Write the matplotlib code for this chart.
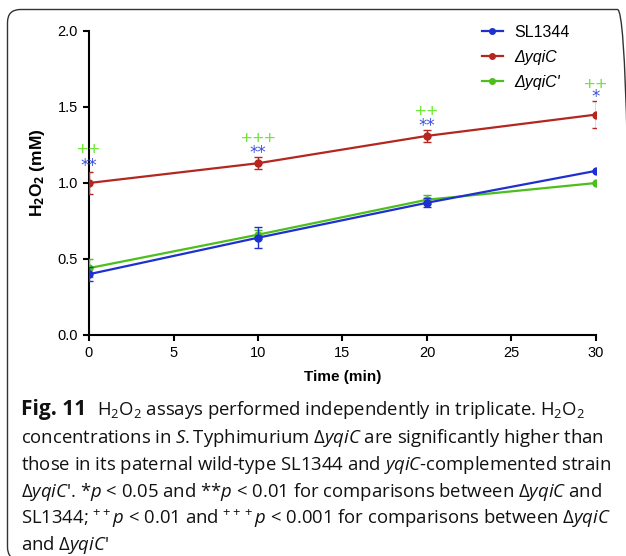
import matplotlib
matplotlib.use("Agg")
import matplotlib.pyplot as plt
from matplotlib.patches import FancyBboxPatch
from matplotlib.lines import Line2D
from matplotlib.transforms import IdentityTransform

plt.rcParams['font.family'] = ['Liberation Sans', 'DejaVu Sans']
plt.rcParams['mathtext.fontset'] = 'custom'
plt.rcParams['mathtext.rm'] = 'Open Sans'
plt.rcParams['mathtext.it'] = 'Open Sans:italic'
plt.rcParams['mathtext.bf'] = 'Open Sans:bold'

# ---- data ----
time = [0, 10, 20, 30]
sl1344 = [0.40, 0.64, 0.87, 1.08]
sl1344_err = [0.045, 0.07, 0.03, 0.0]
dyqiC = [1.00, 1.13, 1.31, 1.45]
dyqiC_err = [0.07, 0.04, 0.04, 0.09]
dyqiCc = [0.44, 0.66, 0.89, 1.00]
dyqiCc_err = [0.06, 0.03, 0.03, 0.0]
star_labels = ['**', '**', '**', '*']
star_y = [1.115, 1.195, 1.375, 1.565]
plus_labels = ['++', '+++', '++', '++']
plus_y = [1.215, 1.285, 1.465, 1.64]
xticks = [0, 5, 10, 15, 20, 25, 30]
yticks = [0.0, 0.5, 1.0, 1.5, 2.0]

blue = '#1f30d0'
red = '#b4261f'
green = '#4cbf1c'
plus_green = '#6fe83a'
star_blue = '#3d4fe0'

W, H = 626, 556
fig = plt.figure(figsize=(W / 100, H / 100), dpi=100)

# rounded frame
frame = FancyBboxPatch((7.5, -4), 623, H - 9.5 + 4, boxstyle="round,pad=0,rounding_size=13",
                       transform=IdentityTransform(), fill=False, edgecolor='#333333',
                       linewidth=1.0, clip_on=False)
fig.patches.append(frame)

ax = fig.add_axes([89 / W, 1 - 335 / H, (596 - 89) / W, (335 - 31) / H])

kw = dict(marker='o', markersize=5, linewidth=1.6, capsize=3, elinewidth=1.0, capthick=1.0)
ax.errorbar(time, dyqiCc, yerr=dyqiCc_err, color=green, zorder=3, **kw)
ax.errorbar(time, sl1344, yerr=sl1344_err, color=blue, zorder=4, **kw)
ax.errorbar(time, dyqiC, yerr=dyqiC_err, color=red, zorder=5, **kw)

for x, s, y in zip(time, star_labels, star_y):
    ax.text(x, y, s, color=star_blue, fontsize=12, family='DejaVu Sans',
            ha='center', va='center')
for x, s, y in zip(time, plus_labels, plus_y):
    ax.text(x, y, s, color=plus_green, fontsize=14, family='Liberation Sans',
            ha='center', va='center')

ax.set_xlim(0, 30)
ax.set_ylim(0, 2.0)
ax.set_xticks(xticks)
ax.set_yticks(yticks)
ax.set_yticklabels([f"{v:.1f}" for v in yticks])
for s in ['top', 'right']:
    ax.spines[s].set_visible(False)
for s in ['left', 'bottom']:
    ax.spines[s].set_linewidth(1.5)
ax.tick_params(axis='both', direction='out', length=4, width=1.5, labelsize=10.5, pad=4)
ax.set_xlabel('Time (min)', fontsize=11, fontweight='bold', labelpad=7)
ax.set_ylabel(r'H$_\mathbf{2}$O$_\mathbf{2}$ (mM)', fontsize=12.5, fontweight='bold')
ax.yaxis.set_label_coords((47 - 89) / 507, 0.535)

handles = [Line2D([], [], color=blue, marker='o', markersize=4, linewidth=1.6),
           Line2D([], [], color=red, marker='o', markersize=4, linewidth=1.6),
           Line2D([], [], color=green, marker='o', markersize=4, linewidth=1.6)]
leg = ax.legend(handles, ['SL1344', 'ΔyqiC', "ΔyqiC'"], loc='upper left',
                bbox_to_anchor=((482 - 89) / 507, 1.02), frameon=False, fontsize=11.5,
                handlelength=1.3, handletextpad=0.75, borderpad=0, borderaxespad=0,
                labelspacing=0.62)
for t in leg.get_texts()[1:]:
    t.set_fontstyle('italic')

cap_family = ['Open Sans', 'Noto Sans']
fig_label = "Fig. 11"
cap_lines = [
    r"H$_2$O$_2$ assays performed independently in triplicate. H$_2$O$_2$",
    r"concentrations in $\mathit{S.}$Typhimurium Δ$\mathit{yqiC}$ are significantly higher than",
    r"those in its paternal wild-type SL1344 and $\mathit{yqiC}$-complemented strain",
    r"Δ$\mathit{yqiC}$'. *$\mathit{p}$ < 0.05 and **$\mathit{p}$ < 0.01 for comparisons between Δ$\mathit{yqiC}$ and",
    r"SL1344; $^{++}\mathit{p}$ < 0.01 and $^{+++}\mathit{p}$ < 0.001 for comparisons between Δ$\mathit{yqiC}$",
    r"and Δ$\mathit{yqiC}$'",
]
base_y = [415, 443, 470, 497, 524, 550]
line_x = [97, 21, 21, 21, 21, 21]
fig.text(21 / W, 1 - base_y[0] / H, fig_label, family=cap_family, fontsize=15,
         fontweight='bold', ha='left', va='baseline', color='#111111')
for line, bx, by in zip(cap_lines, line_x, base_y):
    fig.text(bx / W, 1 - by / H, line, family=cap_family, fontsize=13.3,
             ha='left', va='baseline', color='#111111')

fig.savefig('out.png', dpi=100)
